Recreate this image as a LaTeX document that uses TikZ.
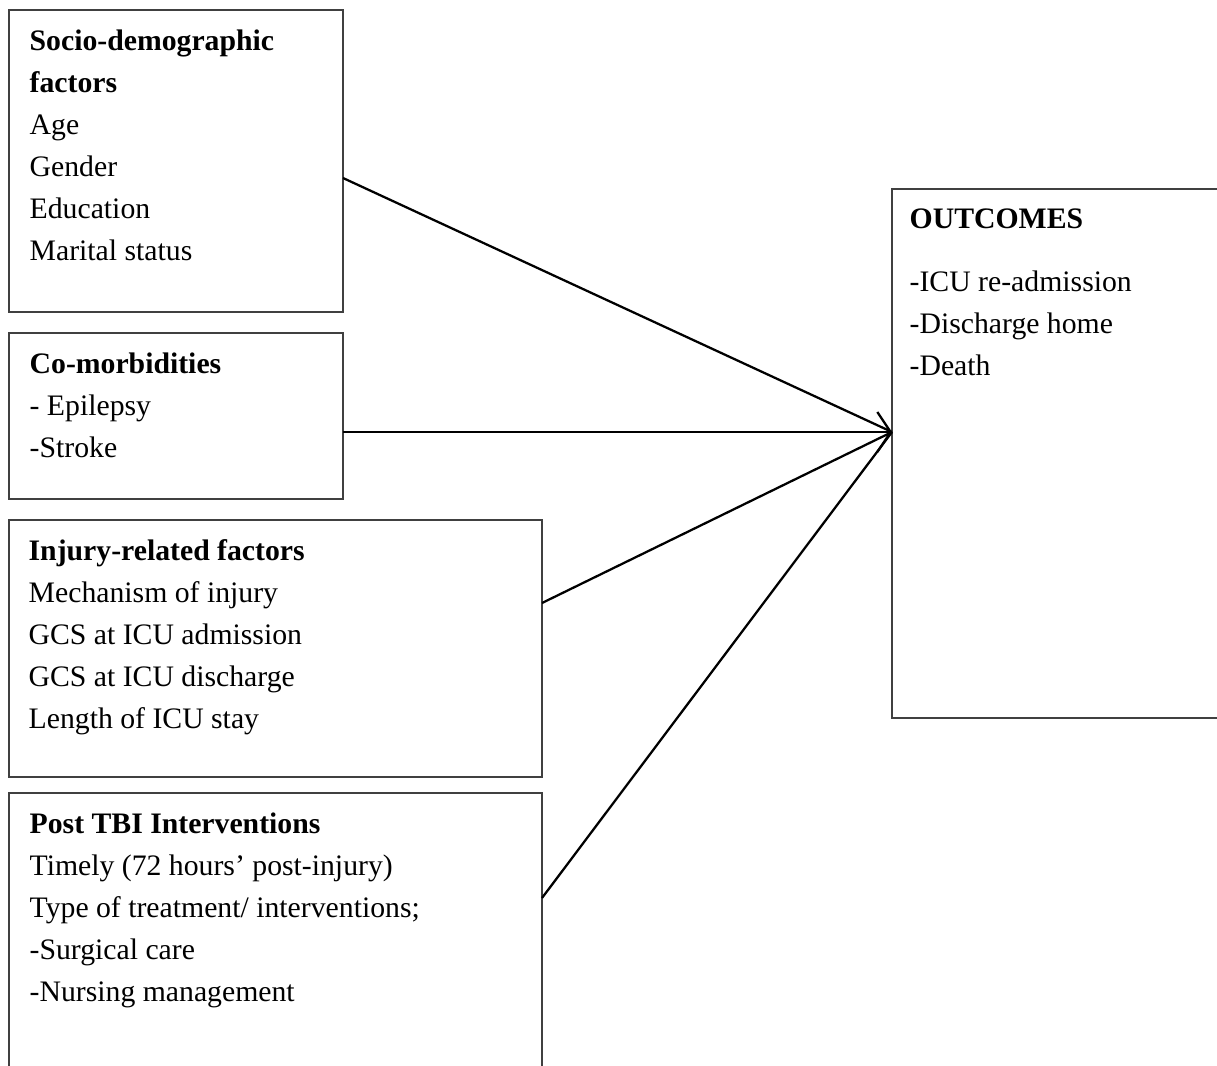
\documentclass[tikz,border=0pt]{standalone}
\usepackage{fontspec}
\setmainfont{Liberation Serif}
\usetikzlibrary{calc}
\usetikzlibrary{fit}
\usetikzlibrary{arrows.meta}
\tikzset{
every picture/.style={x=0.75pt, y=-0.75pt, line width=1pt},
%%%%%%%%%%  Node styles
factorbox/.style={draw=black!75, line width=1pt, inner sep=0, outer sep=0},
boxtext/.style={anchor=north west, inner sep=0, align=left,
                font=\fontsize{22.3}{31.5}\selectfont},
%%%% connector styles:
link/.style={line width=1.7pt, black},
linkhead/.style={link, -{Straight Barb[length=10pt, width=30pt, line width=1.7pt]}}
}

\begin{document}
\begin{tikzpicture}
\useasboundingbox (0,0) rectangle (1217,1066);
\clip (0,0) rectangle (1217,1066);
%%%% boxes
\node[factorbox, fit={(9,10) (343,312)}] (socio) {};
\node[factorbox, fit={(9,333) (343,499)}] (comorb) {};
\node[factorbox, fit={(9,520) (542,777)}] (injury) {};
\node[factorbox, fit={(9,793) (542,1090)}] (post) {};
\node[factorbox, fit={(892,189) (1240,718)}] (outcome) {};
%%%% texts
\node[boxtext] (sociotext) at ($(socio.north west)+(20,19)$)
  {\textbf{Socio-demographic}\\ \textbf{factors}\\ Age\\ Gender\\ Education\\ Marital status};
\node[boxtext] (comorbtext) at ($(comorb.north west)+(20,19)$)
  {\textbf{Co-morbidities}\\ - Epilepsy\\ -Stroke};
\node[boxtext] (injurytext) at ($(injury.north west)+(19,19)$)
  {\textbf{Injury-related factors}\\ Mechanism of injury\\ GCS at ICU admission\\
   GCS at ICU discharge\\ Length of ICU stay};
\node[boxtext] (posttext) at ($(post.north west)+(20,19)$)
  {\textbf{Post TBI Interventions}\\ Timely (72 hours' post-injury)\\
   Type of treatment/ interventions;\\ -Surgical care\\ -Nursing management};
\node[boxtext] (outcometext) at ($(outcome.north west)+(17,19)$)
  {\textbf{OUTCOMES}\\[15.75pt] -ICU re-admission\\ -Discharge home\\ -Death};
%%%% connectors
\coordinate (tip) at ($(outcome.north west)+(0,243)$);
\draw[link] ($(socio.north east)+(0,168)$) -- (tip);
\draw[link] ($(injury.north east)+(0,83)$) -- (tip);
\draw[link] ($(post.north east)+(0,105)$) -- (tip);
\draw[linkhead] ($(comorb.north east)+(0,99)$) -- (tip);
\end{tikzpicture}
\end{document}
